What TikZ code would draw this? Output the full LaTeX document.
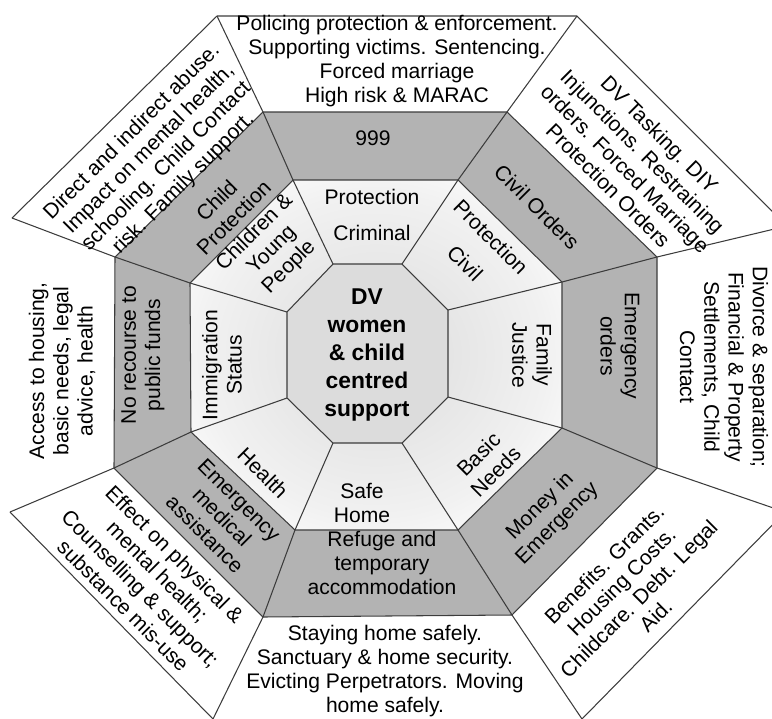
\documentclass[tikz,border=0pt]{standalone}
\usepackage{fontspec}
\setmainfont{Liberation Sans}

\definecolor{bandgray}{HTML}{B3B3B3}
\definecolor{hubgray}{HTML}{DCDCDC}
\definecolor{linegray}{HTML}{3C3C3C}
\pgfdeclareradialshading{ringshade}{\pgfpoint{0bp}{0bp}}{color(0bp)=(hubgray);color(23bp)=(hubgray!40!white);color(33bp)=(white);color(50bp)=(white)}

\begin{document}
\begin{tikzpicture}[x=0.02cm,y=-0.02cm,
  edge/.style={draw=linegray,line width=0.6pt},
  txt/.style={font=\fontsize{12}{13.8}\selectfont,align=center,inner sep=0pt},
  hubtxt/.style={font=\bfseries\fontsize{13}{15.8}\selectfont,align=center,inner sep=0pt}]

\useasboundingbox (0,0) rectangle (772,718);
\clip (0,0) rectangle (772,718);

\coordinate (I1) at (333,264);
\coordinate (I2) at (402,264);
\coordinate (I3) at (448,310);
\coordinate (I4) at (448,397);
\coordinate (I5) at (402,443);
\coordinate (I6) at (333,443);
\coordinate (I7) at (287,398);
\coordinate (I8) at (287,312);

\coordinate (M1) at (293,180);
\coordinate (M2) at (458,180);
\coordinate (M3) at (562,282);
\coordinate (M4) at (562,428);
\coordinate (M5) at (458,530);
\coordinate (M6) at (295,530);
\coordinate (M7) at (191,432);
\coordinate (M8) at (190,283);

\coordinate (G1) at (263,112);
\coordinate (G2) at (507,112);
\coordinate (G3) at (657,257);
\coordinate (G4) at (657,468);
\coordinate (G5) at (512,615);
\coordinate (G6) at (263,617);
\coordinate (G7) at (114,468);
\coordinate (G8) at (115,257);

\coordinate (O1) at (217,16);
\coordinate (O2) at (577,16);
\coordinate (O3) at (787,226);
\coordinate (O4) at (785,512);
\coordinate (O5) at (582,719);
\coordinate (O6) at (213,719);
\coordinate (O7) at (10,512);
\coordinate (O8) at (12,218);

\fill[bandgray] (G1)--(G2)--(G3)--(G4)--(G5)--(G6)--(G7)--(G8)--cycle;
\shade[shading=ringshade] (M1)--(M2)--(M3)--(M4)--(M5)--(M6)--(M7)--(M8)--cycle;
\fill[hubgray] (I1)--(I2)--(I3)--(I4)--(I5)--(I6)--(I7)--(I8)--cycle;

\draw[edge] (O1)--(G1)--(M1)--(I1);
\draw[edge] (O2)--(G2)--(M2)--(I2);
\draw[edge] (O3)--(G3)--(M3)--(I3);
\draw[edge] (O4)--(G4)--(M4)--(I4);
\draw[edge] (O5)--(G5)--(M5)--(I5);
\draw[edge] (O6)--(G6)--(M6)--(I6);
\draw[edge] (O7)--(G7)--(M7)--(I7);
\draw[edge] (O8)--(G8)--(M8)--(I8);

\draw[edge] (G1)--(G2)--(G3)--(G4)--(G5)--(G6)--(G7)--(G8)--cycle;
\draw[edge] (M1)--(M2)--(M3)--(M4)--(M5)--(M6)--(M7)--(M8)--cycle;
\draw[edge] (I1)--(I2)--(I3)--(I4)--(I5)--(I6)--(I7)--(I8)--cycle;
\draw[edge] (O6)--(O7) (O8)--(O1)--(O2)--(O3) (O4)--(O5);

\node[hubtxt] (hub) at (367,355) {DV\\women\\\& child\\centred\\support};

\node[txt] (crim) at (372,215) {Protection\\[7pt]Criminal};
\node[txt,rotate=-45] (civ) at (478,250) {Protection\\[7pt]Civil};
\node[txt,rotate=-90] (fam) at (532,355) {Family\\Justice};
\node[txt,rotate=45] (basic) at (487,463) {Basic\\Needs};
\node[txt] (safe) at (362,503) {Safe\\Home};
\node[txt,rotate=-45] (health) at (263,473) {Health};
\node[txt,rotate=90] (immig) at (222,365) {Immigration\\Status};
\node[txt,rotate=45] (child) at (272,250) {Children \&\\Young\\People};

\node[txt] (nine) at (373,138) {999};
\node[txt,rotate=-45] (civord) at (537,207) {Civil Orders};
\node[txt,rotate=-90] (emord) at (620,346) {Emergency\\orders};
\node[txt,rotate=45] (money) at (549,515) {Money in\\Emergency};
\node[txt] (refuge) at (382,563) {Refuge and\\temporary\\accommodation};
\node[txt,rotate=-45] (medic) at (222,517) {Emergency\\medical\\assistance};
\node[txt,rotate=90] (funds) at (143,355) {No recourse to\\public funds};
\node[txt,rotate=45] (chprot) at (225,209) {Child\\Protection};

\node[txt] (police) at (397,61) {Policing protection \& enforcement.\\Supporting victims. Sentencing.\\Forced marriage\\High risk \& MARAC};
\node[txt,rotate=-45] (tasking) at (634,160) {DV Tasking. DIY\\Injunctions. Restraining\\orders. Forced Marriage\\Protection Orders};
\node[txt,rotate=-90] (divorce) at (724,367) {Divorce \& separation;\\Financial \& Property\\Settlements, Child\\Contact};
\node[txt,rotate=45] (benefit) at (630,590) {Benefits. Grants.\\Housing Costs.\\Childcare. Debt. Legal\\Aid.};
\node[txt] (staying) at (385,671) {Staying home safely.\\Sanctuary \& home security.\\Evicting Perpetrators. Moving\\home safely.};
\node[txt,rotate=-45] (effect) at (149,580) {Effect on physical \&\\mental health;\\Counselling \& support;\\substance mis-use};
\node[txt,rotate=90] (access) at (62,371) {Access to housing,\\basic needs, legal\\advice, health};
\node[txt,rotate=45] (direct) at (158,158) {Direct and indirect abuse.\\Impact on mental health,\\schooling. Child Contact\\risk. Family support.};

\end{tikzpicture}
\end{document}
